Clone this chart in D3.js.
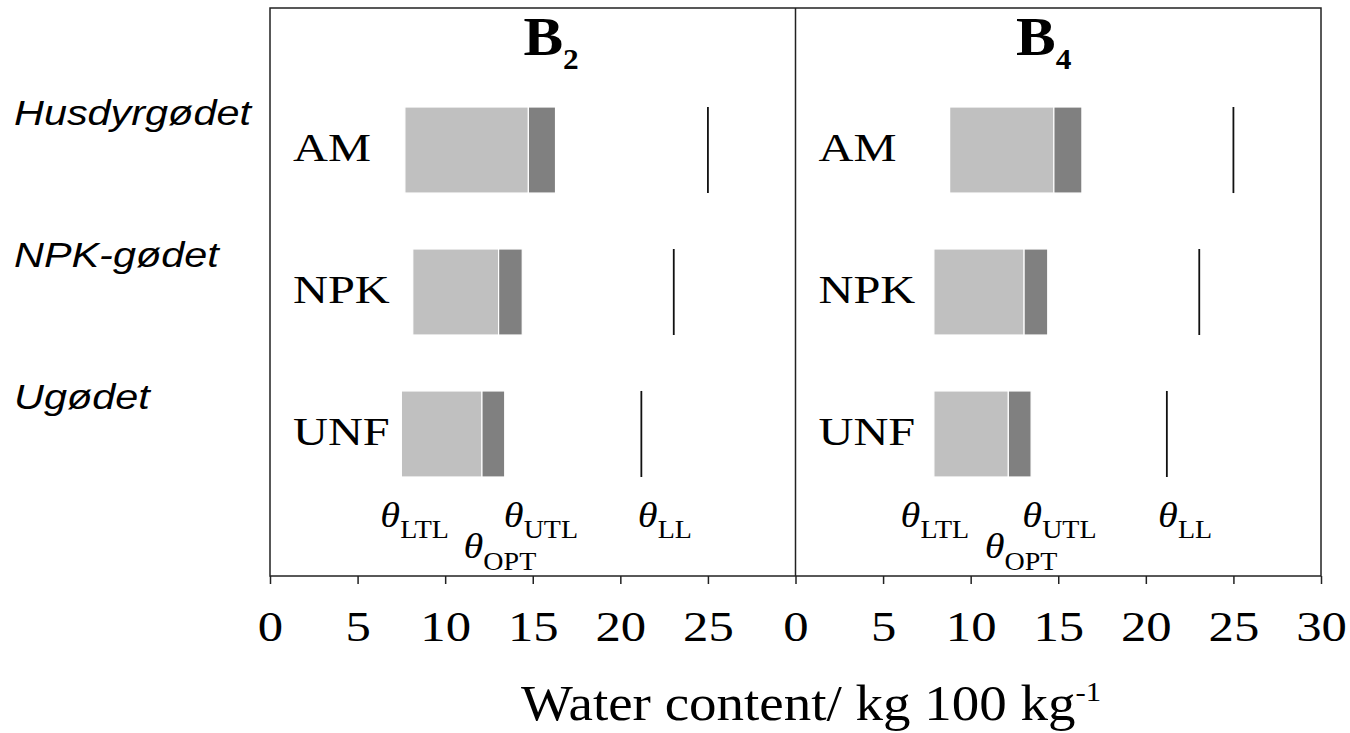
<!DOCTYPE html>
<html>
<head>
<meta charset="utf-8">
<script src="https://cdn.jsdelivr.net/npm/d3@7"></script>
<style>
  html, body { margin: 0; padding: 0; background: #fff; }
  svg { display: block; }
</style>
</head>
<body>
<script>
// ---------- data ----------
const categories = ["AM", "NPK", "UNF"];
const groupLabels = ["Husdyrgødet", "NPK-gødet", "Ugødet"];
const panelNames = ["B2", "B4"];

// B2 panel (water content, kg 100 kg-1)
const b2LTL = [7.7, 8.15, 7.5];
const b2OPT = [14.75, 13.05, 12.1];
const b2UTL = [16.3, 14.4, 13.4];
const b2LL  = [25.0, 23.05, 21.2];

// B4 panel
const b4LTL = [8.8, 7.9, 7.9];
const b4OPT = [14.75, 13.05, 12.15];
const b4UTL = [16.35, 14.4, 13.45];
const b4LL  = [25.0, 23.05, 21.2];

const leftTicks  = [0, 5, 10, 15, 20, 25];
const rightTicks = [0, 5, 10, 15, 20, 25, 30];

const thetaSubs = ["LTL", "UTL", "LL", "OPT"];
const axisTitle = "Water content/ kg 100 kg";
const axisTitleSup = "-1";

// ---------- layout ----------
const W = 1350, H = 733;
const pLeft = 270, pMid = 795.5, pRight = 1321, pTop = 8, pBottom = 576;
const serif = "'Liberation Serif', 'Times New Roman', Times, serif";
const sans = "'Liberation Sans', Arial, sans-serif";
const SX = 1.18;   // horizontal stretch of the original text

const svg = d3.select("body").append("svg").attr("width", W).attr("height", H);
svg.append("rect").attr("width", W).attr("height", H).attr("fill", "#fff");

const y = d3.scaleBand().domain(categories).range([107, 477]).paddingInner(0.394).paddingOuter(0);
const xL = d3.scaleLinear().domain([0, 30]).range([pLeft, pMid]);
const xR = d3.scaleLinear().domain([0, 30]).range([pMid, pRight]);

function stext(parent, x, yy, sx) {
  return parent.append("g").attr("transform", `translate(${x},${yy}) scale(${sx},1)`)
    .append("text").attr("x", 0).attr("y", 0).attr("fill", "#000");
}

const panels = [
  { name: panelNames[0], x: xL, ticks: leftTicks, ltl: b2LTL, opt: b2OPT, utl: b2UTL, ll: b2LL,
    titleAt: 14.47, thetaAt: [6.3, 13.35, 21.0, 11.05] },
  { name: panelNames[1], x: xR, ticks: rightTicks, ltl: b4LTL, opt: b4OPT, utl: b4UTL, ll: b4LL,
    titleAt: 12.59, thetaAt: [6.0, 12.95, 20.7, 10.8] }
];

panels.forEach(p => {
  const g = svg.append("g");
  const x = p.x;
  // light bars LTL -> OPT
  g.selectAll("rect.light").data(categories).join("rect").attr("class", "light")
    .attr("x", (c, i) => x(p.ltl[i]))
    .attr("width", (c, i) => x(p.opt[i]) - x(p.ltl[i]))
    .attr("y", c => y(c)).attr("height", y.bandwidth())
    .attr("fill", "#c0c0c0").attr("stroke", "#fff").attr("stroke-width", 1.2);
  // dark bars OPT -> UTL
  g.selectAll("rect.dark").data(categories).join("rect").attr("class", "dark")
    .attr("x", (c, i) => x(p.opt[i]))
    .attr("width", (c, i) => x(p.utl[i]) - x(p.opt[i]))
    .attr("y", c => y(c)).attr("height", y.bandwidth())
    .attr("fill", "#808080").attr("stroke", "#fff").attr("stroke-width", 1.2);
  // LL lines
  g.selectAll("line.ll").data(categories).join("line").attr("class", "ll")
    .attr("x1", (c, i) => x(p.ll[i])).attr("x2", (c, i) => x(p.ll[i]))
    .attr("y1", c => y(c)).attr("y2", c => y(c) + y.bandwidth())
    .attr("stroke", "#111").attr("stroke-width", 1.8);
  // row labels
  categories.forEach(c => {
    stext(g, x(0) + 23, y(c) + y.bandwidth() / 2 + 11, SX)
      .attr("font-family", serif).attr("font-size", 41).text(c);
  });
  // title
  const t = stext(g, x(p.titleAt), 55, 1.08)
    .attr("font-family", serif).attr("font-size", 55).attr("font-weight", "bold");
  t.append("tspan").text(p.name[0]);
  t.append("tspan").attr("font-size", 29).attr("dy", 14).text(p.name.slice(1));
  // theta labels
  thetaSubs.forEach((s, i) => {
    const by = s === "OPT" ? 558.3 : 526.7;
    const tt = stext(g, x(p.thetaAt[i]), by, 1.12).attr("font-family", serif);
    tt.append("tspan").attr("font-size", 36).attr("font-style", "italic").text("θ");
    tt.append("tspan").attr("font-size", 25).attr("dy", 11.7).text(s);
  });
  // axis
  const ax = d3.axisBottom(x).tickValues(p.ticks).tickSize(8).tickSizeOuter(0).tickFormat(d3.format("d"));
  const ag = svg.append("g").attr("transform", `translate(0,${pBottom})`).call(ax);
  ag.select(".domain").remove();
  ag.selectAll(".tick line").attr("stroke", "#222").attr("stroke-width", 1.5);
  ag.selectAll(".tick text")
    .attr("y", null).attr("dy", null)
    .attr("transform", `translate(0,65) scale(${SX},1)`)
    .attr("font-family", serif).attr("font-size", 43).attr("fill", "#000");
});

// frame
const fr = svg.append("g").attr("fill", "none").attr("stroke", "#222").attr("stroke-width", 1.5);
fr.append("rect").attr("x", pLeft).attr("y", pTop).attr("width", pRight - pLeft).attr("height", pBottom - pTop);
fr.append("line").attr("x1", pMid).attr("x2", pMid).attr("y1", pTop).attr("y2", pBottom);

// group labels
groupLabels.forEach((gl, i) => {
  const c = categories[i];
  stext(svg, 14, y(c) + y.bandwidth() / 2 - 25, 1.15)
    .attr("font-family", sans).attr("font-size", 36).attr("font-style", "italic").text(gl);
});

// axis title
const at = stext(svg, 521, 720, 1.1).attr("font-family", serif).attr("font-size", 50);
at.append("tspan").text(axisTitle);
at.append("tspan").attr("font-size", 28).attr("dy", -19).text(axisTitleSup);
</script>
</body>
</html>
